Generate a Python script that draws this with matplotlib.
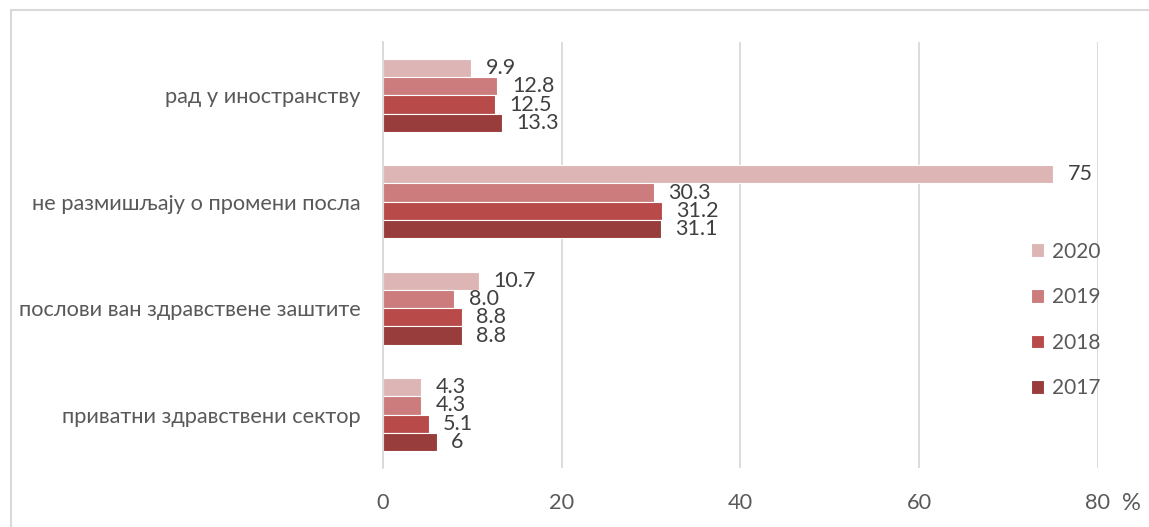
import matplotlib.pyplot as plt
import matplotlib.patches as mpatches
import numpy as np

plt.rcParams['font.family'] = ['Lato', 'Open Sans', 'DejaVu Sans']

# data
categories = ["рад у иностранству", "не размишљају о промени посла",
              "послови ван здравствене заштите", "приватни здравствени сектор"]
years = ["2020", "2019", "2018", "2017"]
values = {
    "2020": [9.9, 75, 10.7, 4.3],
    "2019": [12.8, 30.3, 8.0, 4.3],
    "2018": [12.5, 31.2, 8.8, 5.1],
    "2017": [13.3, 31.1, 8.8, 6],
}
labels = {
    "2020": ["9.9", "75", "10.7", "4.3"],
    "2019": ["12.8", "30.3", "8.0", "4.3"],
    "2018": ["12.5", "31.2", "8.8", "5.1"],
    "2017": ["13.3", "31.1", "8.8", "6"],
}
colors = {"2020": "#DEB5B5", "2019": "#CC7C7C", "2018": "#B84B4A", "2017": "#983C3C"}

fig = plt.figure(figsize=(11.49, 5.27), dpi=100)
ax = fig.add_axes([0.3333, 0.1125, 0.6223, 0.8075])

# light frame (only top and left edges are visible)
fig.add_artist(mpatches.Rectangle((11 / 1149, -0.1), 1.2, 1 - 9.5 / 527 + 0.1,
                                  transform=fig.transFigure, fill=False,
                                  edgecolor="#D9D9D9", lw=1.5))

h = 0.172
y = np.arange(len(categories))
for k, yr in enumerate(years):
    pos = y + (k - 1.5) * h
    bars = ax.barh(pos, values[yr], height=h, color=colors[yr],
                   edgecolor="white", linewidth=0.8, label=yr, zorder=3)
    for p, v, t in zip(pos, values[yr], labels[yr]):
        ax.annotate(t, (v, p), xytext=(10.5, 0), textcoords="offset points",
                    ha="left", va="center", fontsize=15.5, color="#404040")

ax.set_xlim(0, 80)
ax.set_ylim(3.5, -0.5)
ax.set_xticks([0, 20, 40, 60, 80])
ax.set_yticks(y)
ax.set_yticklabels(categories)
ax.tick_params(axis="both", length=0, colors="#595959", labelsize=15.7)
ax.tick_params(axis="x", pad=18)
ax.tick_params(axis="y", pad=16)
ax.grid(axis="x", color="#D9D9D9", lw=1.3, zorder=0)
for s in ["top", "right", "bottom"]:
    ax.spines[s].set_visible(False)
ax.spines["left"].set_color("#D9D9D9")
ax.spines["left"].set_linewidth(1.3)
ax.spines["left"].set_zorder(4)

fig.text(1131 / 1149, 1 - 503 / 527, "%", fontsize=17, color="#595959",
         ha="center", va="center")

leg = ax.legend(loc="center left", bbox_to_anchor=(1021 / 1149, 1 - 320 / 527),
                bbox_transform=fig.transFigure, frameon=False, fontsize=15,
                handlelength=0.62, handleheight=0.62, labelspacing=1.23,
                handletextpad=0.35, borderpad=0)
for t in leg.get_texts():
    t.set_color("#595959")

fig.savefig("out.png", dpi=100, facecolor="white")
